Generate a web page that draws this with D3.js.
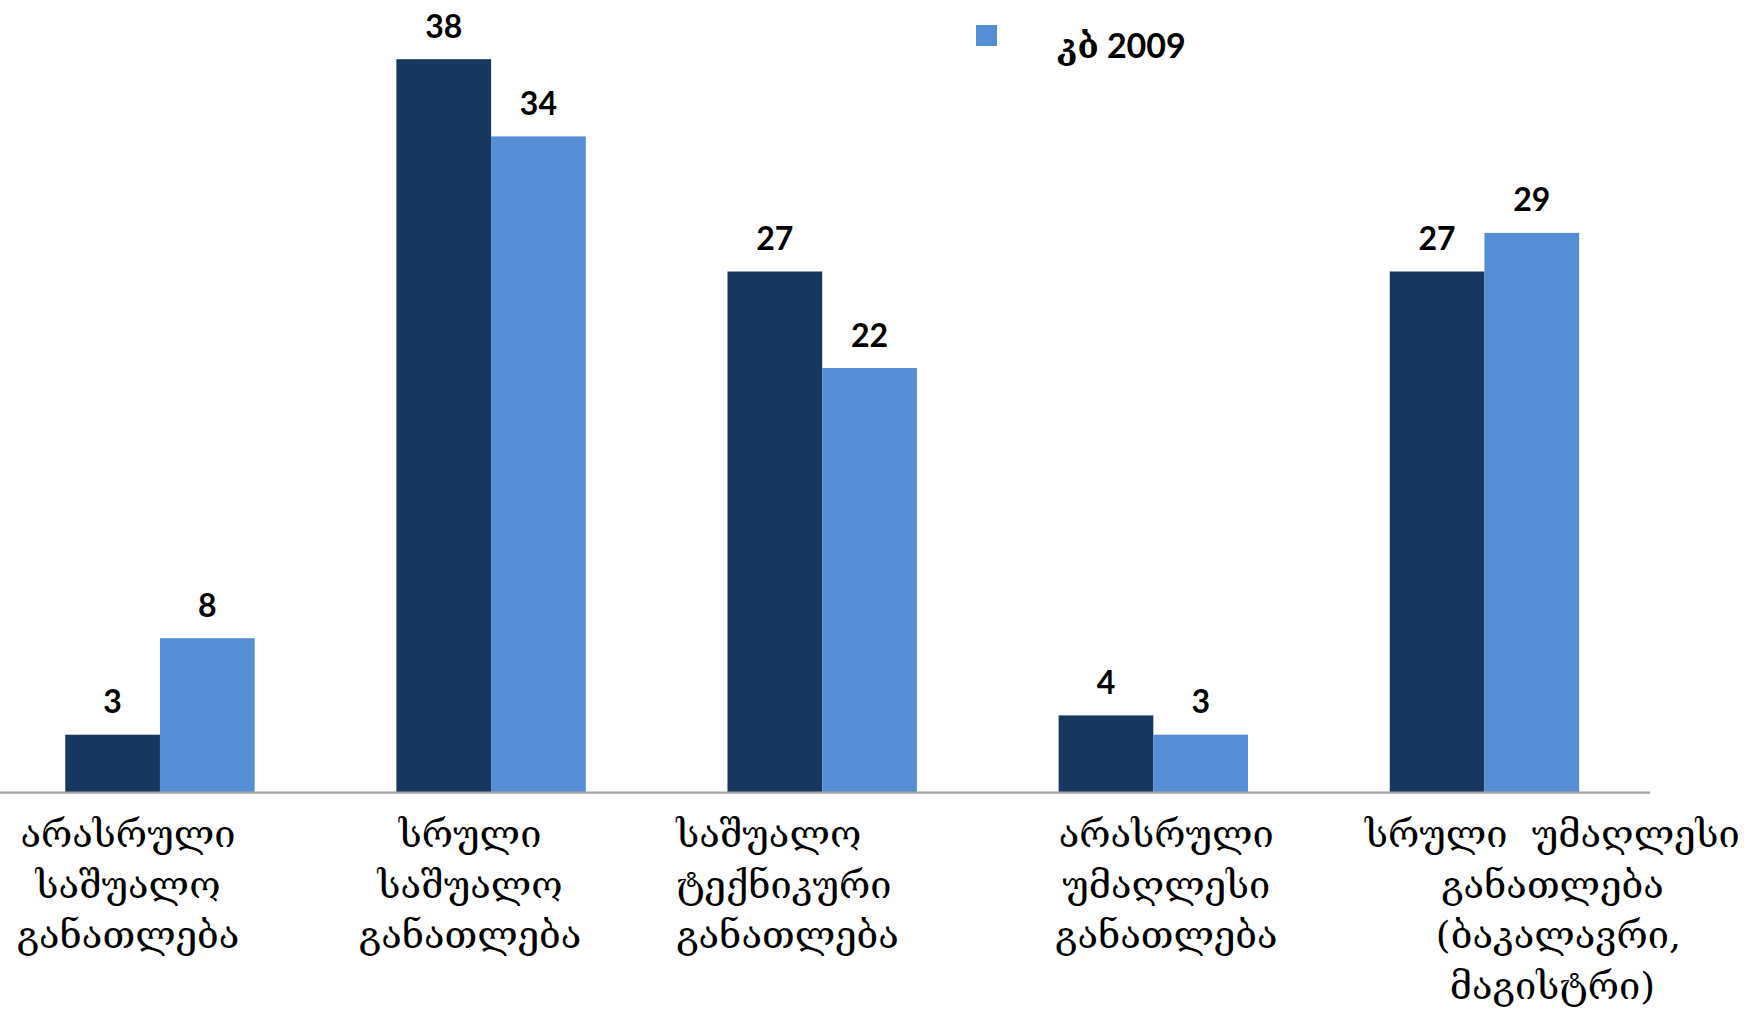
<!DOCTYPE html>
<html>
<head>
<meta charset="utf-8">
<script src="https://cdn.jsdelivr.net/npm/d3@7"></script>
<style>
  html, body { margin: 0; padding: 0; background: #ffffff; }
  svg { display: block; }
</style>
</head>
<body>
<svg id="chart" width="1744" height="1016"></svg>
<script>
// ---- data ----
const categories = [
  ["არასრული", "საშუალო", "განათლება"],
  ["სრული", "საშუალო", "განათლება"],
  ["საშუალო", "ტექნიკური", "განათლება"],
  ["არასრული", "უმაღლესი", "განათლება"],
  ["სრული  უმაღლესი", "განათლება", " (ბაკალავრი,", "მაგისტრი)"]
];
const categoryKeys = ["c1", "c2", "c3", "c4", "c5"];
const seriesNames = ["სერია 1", "კბ 2009"];
const seriesA = [3, 38, 27, 4, 27];
const seriesB = [8, 34, 22, 3, 29];
const legendSeries = ["კბ 2009"];

// ---- layout (kept separate from data) ----
const W = 1744, H = 1016;
const plotLeft = -5.6, plotRight = 1650, baseY = 792.6, topY = 20.6;
const labelLayout = [
  { dx: -32, anchor: "middle" },
  { dx: -21, anchor: "middle" },
  { dx: -146, anchor: "start" },
  { dx: 13, anchor: "middle" },
  { dx: 68, anchor: "middle" }
];
const colors = ["#17375E", "#558ED5"];

const svg = d3.select("#chart");

const x0 = d3.scaleBand()
  .domain(categoryKeys)
  .range([plotLeft, plotRight])
  .paddingInner(0.428)
  .paddingOuter(0.214);

const x1 = d3.scaleBand()
  .domain(seriesNames)
  .range([0, x0.bandwidth()])
  .padding(0);

const y = d3.scaleLinear().domain([0, 40]).range([baseY, topY]);

const rows = categoryKeys.map((k, i) => ({
  key: k,
  values: [
    { s: seriesNames[0], v: seriesA[i], ci: 0 },
    { s: seriesNames[1], v: seriesB[i], ci: 1 }
  ]
}));

const groups = svg.append("g").selectAll("g")
  .data(rows).join("g")
  .attr("transform", d => `translate(${x0(d.key)},0)`);

groups.selectAll("rect")
  .data(d => d.values).join("rect")
  .attr("x", d => x1(d.s))
  .attr("y", d => y(d.v))
  .attr("width", x1.bandwidth())
  .attr("height", d => y(0) - y(d.v))
  .attr("fill", d => colors[d.ci]);

groups.selectAll("text.val")
  .data(d => d.values).join("text")
  .attr("class", "val")
  .attr("x", d => x1(d.s) + x1.bandwidth() / 2)
  .attr("y", d => y(d.v) - 21.5)
  .attr("text-anchor", "middle")
  .attr("font-family", "Lato, 'DejaVu Sans', sans-serif")
  .attr("font-weight", "bold")
  .attr("font-size", 32)
  .attr("fill", "#000")
  .text(d => d.v);

// x axis baseline
const xAxis = d3.axisBottom(x0).tickSize(0).tickFormat("");
const axisG = svg.append("g")
  .attr("transform", `translate(0,${baseY})`)
  .call(xAxis);
axisG.select(".domain")
  .attr("stroke", "#A6A6A6")
  .attr("stroke-width", 2.2)
  .attr("d", `M0,0H${plotRight}`);

// category labels
const labG = svg.append("g");
categories.forEach((lines, i) => {
  const cx = x0(categoryKeys[i]) + x0.bandwidth() / 2 + labelLayout[i].dx;
  const t = labG.append("text")
    .attr("text-anchor", labelLayout[i].anchor)
    .attr("font-family", "'DejaVu Serif', serif")
    .attr("font-size", 38)
    .attr("fill", "#000")
    .attr("xml:space", "preserve")
    .style("white-space", "pre");
  lines.forEach((ln, j) => {
    t.append("tspan")
      .attr("x", cx)
      .attr("y", 847 + j * 50.7)
      .text(ln);
  });
});

// legend
const leg = svg.append("g");
legendSeries.forEach((name, i) => {
  leg.append("rect")
    .attr("x", 976).attr("y", 25)
    .attr("width", 21).attr("height", 21)
    .attr("fill", colors[1]);
  leg.append("text")
    .attr("x", 1057).attr("y", 58)
    .attr("font-family", "Lato, 'DejaVu Serif', serif")
    .attr("font-weight", "bold")
    .attr("font-size", 34)
    .attr("fill", "#000")
    .text(name);
});
</script>
</body>
</html>
